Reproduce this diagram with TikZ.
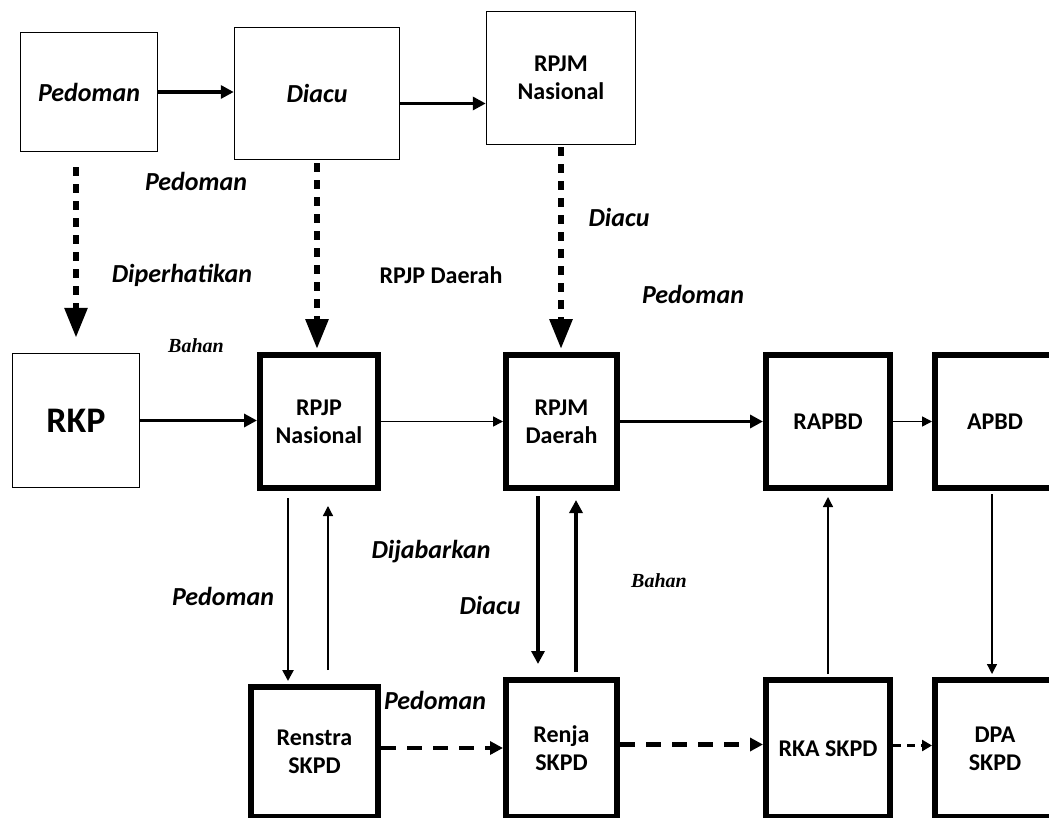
\documentclass[tikz,border=0pt]{standalone}
\usepackage{fontspec}
\setmainfont{Carlito}
\newfontfamily\bahanfont{Liberation Serif}
\usetikzlibrary{positioning}
\usetikzlibrary{arrows.meta,calc}
\tikzstyle{thinbox}=[rectangle,draw,line width=1.5pt,fill=white,inner sep=0pt,align=center,font=\fontsize{24}{28}\selectfont\bfseries]
\tikzstyle{thickbox}=[rectangle,draw,line width=6pt,fill=white,inner sep=0pt,align=center,font=\fontsize{24}{28}\selectfont\bfseries]
\tikzstyle{edge} = [draw,line width=3.5pt,-{Triangle[length=13pt,width=13pt]}]
\tikzstyle{midedge} = [draw,line width=2.5pt,-{Triangle[length=11pt,width=11pt]}]
\tikzstyle{thinedge} = [draw,line width=1.3pt,-{Triangle[length=10pt,width=10pt]}]
\tikzstyle{dashedge} = [draw,line width=6pt,dash pattern=on 9pt off 8pt,-{Triangle[length=30pt,width=22pt]}]
\tikzstyle{flatdash} = [draw,line width=4.5pt,dash pattern=on 15pt off 11pt,-{Triangle[length=13pt,width=13pt]}]
\tikzstyle{smalldash} = [draw,line width=2.5pt,dash pattern=on 8pt off 6pt,-{Triangle[length=10pt,width=11pt]}]
\tikzstyle{weight} = [font=\fontsize{26}{30}\selectfont\bfseries\itshape]
\tikzstyle{boxlabel} = [font=\fontsize{24}{28}\selectfont\bfseries]
\tikzstyle{bahan} = [font=\bahanfont\fontsize{20}{22}\selectfont\bfseries\itshape]

\begin{document}
\begin{tikzpicture}[x=1pt,y=-1pt]

  \clip (0,0) rectangle (1049,818);
  \fill[white] (0,0) rectangle (1049,818);

   \foreach \x/\y/\w/\h/\name/\label in {89/92/137/119/pedomanbox/{\fontsize{26}{30}\selectfont\itshape Pedoman}, 317/93.5/165/132/diacubox/{\fontsize{26}{30}\selectfont\itshape Diacu}, 561/78/149/133/rpjmnas/{RPJM\\Nasional}, 76/420.5/127/134/rkp/{\fontsize{36}{40}\selectfont RKP}}
          \node[thinbox, minimum width=\w*1pt, minimum height=\h*1pt] (\name) at (\x,\y) {\label};

   \foreach \x/\y/\w/\h/\name/\label in {319/421.5/118/133/rpjpnas/{RPJP\\Nasional}, 561.5/421.5/111/133/rpjmdae/{RPJM\\Daerah}, 828/421.5/124/133/rapbd/RAPBD, 995/421.5/120/133/apbd/APBD, 314.5/752/127/130/renstra/{Renstra\\SKPD}, 561.5/748.5/111/137/renja/{Renja\\SKPD}, 828/748.5/124/137/rka/{RKA SKPD}, 995/748.5/120/137/dpa/{DPA\\SKPD}}
          \node[thickbox, minimum width=\w*1pt, minimum height=\h*1pt] (\name) at (\x,\y) {\label};

  \path[edge] (pedomanbox.east) -- (pedomanbox.east -| diacubox.west);
  \path[edge] ([yshift=-10pt]diacubox.east) -- ([yshift=-10pt]diacubox.east -| rpjmnas.west);

  \path[dashedge, shorten <=15pt, shorten >=15pt] (pedomanbox.south -| rkp.north) -- (rkp.north);
  \path[dashedge, shorten <=3pt, shorten >=3pt] (diacubox.south) -- (diacubox.south |- rpjpnas.north);
  \path[dashedge, shorten <=2pt, shorten >=3pt] (rpjmnas.south) -- (rpjmnas.south |- rpjmdae.north);

  \foreach \source/ \dest in {rkp/rpjpnas, rpjmdae/rapbd}
         \path[edge] (\source.east) -- (\source.east -| \dest.west);
  \foreach \source/ \dest in {rpjpnas/rpjmdae, rapbd/apbd}
         \path[thinedge, line width=1.6pt] (\source.east) -- (\source.east -| \dest.west);

  \path[midedge, shorten <=7pt, shorten >=3pt] ([xshift=-31pt]rpjpnas.south) -- ([xshift=-31pt]rpjpnas.south |- renstra.north);
  \path[thinedge, shorten <=14pt, shorten >=15pt] ([xshift=9pt]rpjpnas.south |- renstra.north) -- ([xshift=9pt]rpjpnas.south);
  \path[edge, shorten <=5pt, shorten >=13pt] ([xshift=-23.5pt]rpjmdae.south) -- ([xshift=-23.5pt]rpjmdae.south |- renja.north);
  \path[edge, shorten <=5pt, shorten >=9pt] ([xshift=14.5pt]rpjmdae.south |- renja.north) -- ([xshift=14.5pt]rpjmdae.south);
  \path[thinedge, shorten <=3pt, shorten >=6pt] (rka.north) -- (rapbd.south);
  \path[thinedge, shorten <=3pt, shorten >=3pt] ([xshift=-3pt]apbd.south) -- ([xshift=-3pt]dpa.north);

  \path[flatdash] ([yshift=4pt]renstra.east) -- ([yshift=4pt]renstra.east -| renja.west);
  \path[flatdash] ([yshift=4pt]renja.east) -- ([yshift=4pt]renja.east -| rka.west);
  \path[smalldash] ([yshift=3pt]rka.east) -- ([yshift=3pt]rka.east -| dpa.west);

  \node[weight] (lblpedoman) at (196,181) {Pedoman};
  \node[weight] (lbldiperhatikan) at (182,275) {Diperhatikan};
  \node[boxlabel] (lblrpjpdaerah) at (441,275) {RPJP Daerah};
  \node[weight] (lbldiacu) at (619,217) {Diacu};
  \node[weight] (lblpedomanb) at (693,294) {Pedoman};
  \node[bahan] (lblbahan) at (196,346) {Bahan};
  \node[weight] (lbldijabarkan) at (431,552) {Dijabarkan};
  \node[weight] (lblpedomanc) at (223,596) {Pedoman};
  \node[weight] (lbldiacub) at (490,605) {Diacu};
  \node[bahan] (lblbahanb) at (659,581) {Bahan};
  \node[weight] (lblpedomand) at (435,700) {Pedoman};

   \end{tikzpicture}
\end{document}
